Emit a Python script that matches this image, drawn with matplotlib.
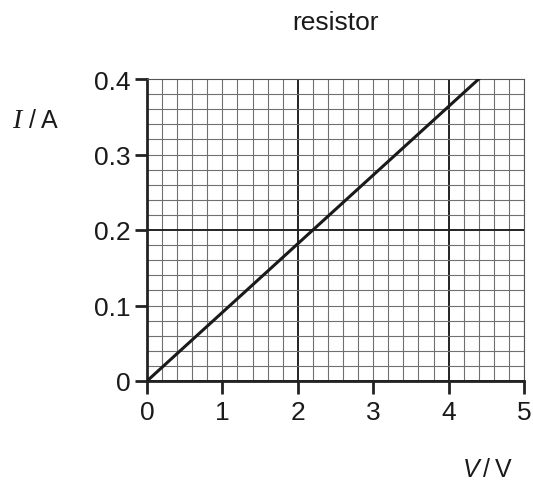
import numpy as np
import matplotlib
matplotlib.use("Agg")
import matplotlib.pyplot as plt

# resistor I-V characteristic
voltage = [0.0, 4.4]
current = [0.0, 0.4]
x_ticks = [0, 1, 2, 3, 4, 5]
y_ticks = [0, 0.1, 0.2, 0.3, 0.4]
y_tick_labels = ["0", "0.1", "0.2", "0.3", "0.4"]

plt.rcParams['font.family'] = ['Liberation Sans', 'DejaVu Sans']

W, H = 533, 485
fig = plt.figure(figsize=(W / 100, H / 100), dpi=100)
ax = fig.add_axes([147 / W, 1 - 382 / H, (524 - 147) / W, (382 - 80) / H])

ax.set_xlim(0, 5)
ax.set_ylim(0, 0.4)

# fine grid every 0.2 V / 0.02 A, heavier lines every 2 V / 0.2 A
for xv in np.arange(0, 5.01, 0.2):
    heavy = abs(xv / 2 - round(xv / 2)) < 1e-6
    ax.axvline(xv, color="#222222" if heavy else "#707070", lw=1.4 if heavy else 0.8, zorder=1)
for yv in np.arange(0, 0.401, 0.02):
    heavy = abs(yv / 0.2 - round(yv / 0.2)) < 1e-6
    ax.axhline(yv, color="#222222" if heavy else "#707070", lw=1.4 if heavy else 0.8, zorder=1)

ax.plot(voltage, current, color="#1a1a1a", lw=2.2, zorder=3)

for side in ["top", "right"]:
    ax.spines[side].set_linewidth(0.8)
    ax.spines[side].set_color("#555555")
for side in ["left", "bottom"]:
    ax.spines[side].set_linewidth(2)
    ax.spines[side].set_color("#222222")

ax.set_xticks(x_ticks)
ax.set_yticks(y_ticks)
ax.set_yticklabels(y_tick_labels)
ax.tick_params(axis="both", direction="out", length=9, width=2, labelsize=19,
               color="#222222", labelcolor="#1a1a1a")
ax.tick_params(axis="x", pad=5)
ax.tick_params(axis="y", pad=3)

fig.text(335 / W, 1 - 30 / H, "resistor", ha="center", va="baseline", fontsize=19, color="#1a1a1a")

# axis labels: serif italic I, sans italic V
fig.text(12 / W, 1 - 128 / H, "I", ha="left", va="baseline", fontsize=20,
         family="Liberation Serif", style="italic", color="#1a1a1a")
fig.text(58 / W, 1 - 128 / H, "/\u2009A", ha="right", va="baseline", fontsize=18, color="#1a1a1a")
fig.text(463 / W, 1 - 477 / H, "V", ha="left", va="baseline", fontsize=18,
         style="italic", color="#1a1a1a")
fig.text(512 / W, 1 - 477 / H, "/\u2009V", ha="right", va="baseline", fontsize=18, color="#1a1a1a")

fig.savefig("out.png", dpi=100)
